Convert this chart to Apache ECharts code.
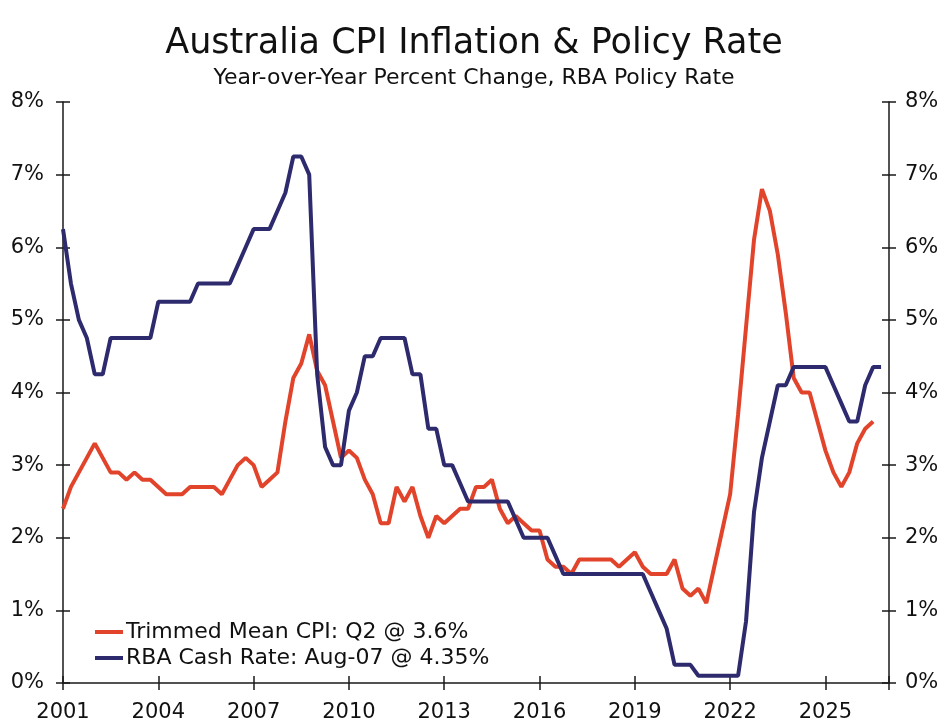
<!DOCTYPE html>
<html lang="en">
<head>
    <meta charset="UTF-8">
    <title>Australia CPI Inflation & Policy Rate</title>
    <script src="https://cdn.jsdelivr.net/npm/echarts@6/dist/echarts.min.js"></script>
    <style>
        html, body { margin: 0; padding: 0; background: #fff; }
        #chart { width: 948px; height: 726px; }
    </style>
</head>
<body>
    <div id="chart"></div>
    <script>
        // quarterly observations, first point at 2001.0, one step = a quarter
        var startYear = 2001;
        var trimmedMean = [
            2.4, 2.7, 2.9, 3.1,
            3.3, 3.1, 2.9, 2.9,
            2.8, 2.9, 2.8, 2.8,
            2.7, 2.6, 2.6, 2.6,
            2.7, 2.7, 2.7, 2.7,
            2.6, 2.8, 3.0, 3.1,
            3.0, 2.7, 2.8, 2.9,
            3.6, 4.2, 4.4, 4.8,
            4.3, 4.1, 3.6, 3.1,
            3.2, 3.1, 2.8, 2.6,
            2.2, 2.2, 2.7, 2.5,
            2.7, 2.3, 2.0, 2.3,
            2.2, 2.3, 2.4, 2.4,
            2.7, 2.7, 2.8, 2.4,
            2.2, 2.3, 2.2, 2.1,
            2.1, 1.7, 1.6, 1.6,
            1.5, 1.7, 1.7, 1.7,
            1.7, 1.7, 1.6, 1.7,
            1.8, 1.6, 1.5, 1.5,
            1.5, 1.7, 1.3, 1.2,
            1.3, 1.1, 1.6, 2.1,
            2.6, 3.7, 4.9, 6.1,
            6.8, 6.5, 5.9, 5.1,
            4.2, 4.0, 4.0, 3.6,
            3.2, 2.9, 2.7, 2.9,
            3.3, 3.5, 3.6
        ];
        var cashRate = [
            6.25, 5.5, 5.0, 4.75,
            4.25, 4.25, 4.75, 4.75,
            4.75, 4.75, 4.75, 4.75,
            5.25, 5.25, 5.25, 5.25,
            5.25, 5.5, 5.5, 5.5,
            5.5, 5.5, 5.75, 6.0,
            6.25, 6.25, 6.25, 6.5,
            6.75, 7.25, 7.25, 7.0,
            4.25, 3.25, 3.0, 3.0,
            3.75, 4.0, 4.5, 4.5,
            4.75, 4.75, 4.75, 4.75,
            4.25, 4.25, 3.5, 3.5,
            3.0, 3.0, 2.75, 2.5,
            2.5, 2.5, 2.5, 2.5,
            2.5, 2.25, 2.0, 2.0,
            2.0, 2.0, 1.75, 1.5,
            1.5, 1.5, 1.5, 1.5,
            1.5, 1.5, 1.5, 1.5,
            1.5, 1.5, 1.25, 1.0,
            0.75, 0.25, 0.25, 0.25,
            0.1, 0.1, 0.1, 0.1,
            0.1, 0.1, 0.85, 2.35,
            3.1, 3.6, 4.1, 4.1,
            4.35, 4.35, 4.35, 4.35,
            4.35, 4.1, 3.85, 3.6,
            3.6, 4.1, 4.35, 4.35
        ];
        var cpiName = 'Trimmed Mean CPI: Q2 @ 3.6%';
        var cashName = 'RBA Cash Rate: Aug-07 @ 4.35%';

        function toPairs(values) {
            return values.map(function (v, i) {
                return [startYear + i * 0.25, v];
            });
        }

        var font = 'DejaVu Sans, Verdana, sans-serif';
        var axisColor = '#1a1a1a';

        function xAxisDef(inside, showLabel) {
            return {
                type: 'value',
                position: 'bottom',
                min: 2001,
                max: 2027,
                interval: 3,
                splitLine: { show: false },
                axisLine: { show: !inside, lineStyle: { color: axisColor, width: 1.5 } },
                axisTick: { show: true, inside: inside, length: 7, lineStyle: { color: axisColor, width: 1.5 } },
                axisLabel: {
                    show: showLabel,
                    margin: 19,
                    color: '#111',
                    fontFamily: font,
                    fontSize: 21,
                    formatter: function (v) {
                        return (v - 2001) % 3 === 0 ? String(v) : '';
                    }
                }
            };
        }

        function yAxisDef(pos, inside, showLabel) {
            return {
                type: 'value',
                position: pos,
                min: 0,
                max: 8,
                interval: 1,
                splitLine: { show: false },
                axisLine: { show: !inside, lineStyle: { color: axisColor, width: 1.5 } },
                axisTick: { show: true, inside: inside, length: 7, lineStyle: { color: axisColor, width: 1.5 } },
                axisLabel: {
                    show: showLabel,
                    margin: pos === 'left' ? 19 : 16,
                    color: '#111',
                    fontFamily: font,
                    fontSize: 21,
                    formatter: function (v) { return v + '%'; }
                }
            };
        }

        var chart = echarts.init(document.getElementById('chart'));
        var option = {
            animation: false,
            backgroundColor: '#ffffff',
            textStyle: { fontFamily: font },
            title: [
                {
                    text: 'Australia CPI Inflation & Policy Rate',
                    left: 'center',
                    top: 21,
                    textStyle: { fontFamily: font, fontSize: 35, fontWeight: 'normal', color: '#111' }
                },
                {
                    text: 'Year-over-Year Percent Change, RBA Policy Rate',
                    left: 'center',
                    top: 62,
                    textStyle: { fontFamily: font, fontSize: 22, fontWeight: 'normal', color: '#111' }
                }
            ],
            legend: {
                orient: 'vertical',
                left: 95,
                top: 621,
                padding: 0,
                itemWidth: 28,
                itemHeight: 4,
                itemGap: 4,
                icon: 'rect',
                textStyle: { fontFamily: font, fontSize: 22, color: '#111', padding: [0, 0, 0, -2] },
                data: [cpiName, cashName]
            },
            grid: { left: 63, right: 59, top: 102, bottom: 43 },
            xAxis: [xAxisDef(false, true), xAxisDef(true, false)],
            yAxis: [
                yAxisDef('left', false, true),
                yAxisDef('right', false, true),
                yAxisDef('left', true, false),
                yAxisDef('right', true, false)
            ],
            series: [
                {
                    name: cpiName,
                    type: 'line',
                    showSymbol: false,
                    symbol: 'none',
                    color: '#E2442B',
                    lineStyle: { width: 4, color: '#E2442B' },
                    data: toPairs(trimmedMean),
                    z: 2
                },
                {
                    name: cashName,
                    type: 'line',
                    showSymbol: false,
                    symbol: 'none',
                    color: '#2E2A6E',
                    lineStyle: { width: 4, color: '#2E2A6E' },
                    data: toPairs(cashRate),
                    z: 3
                }
            ]
        };
        chart.setOption(option);
    </script>
</body>
</html>
